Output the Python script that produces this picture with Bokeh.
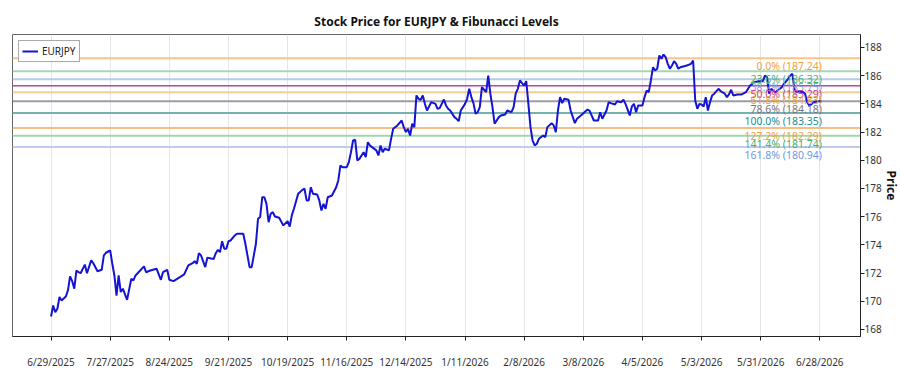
import pandas as pd
from bokeh.plotting import figure
from bokeh.models import Range1d, FixedTicker, Legend, LegendItem, ColumnDataSource, Title
from bokeh.core.properties import value
from bokeh.embed import file_html
from bokeh.resources import INLINE

FONT = "Noto Sans"

dates = [
    "2025-06-29", "2025-06-30", "2025-07-01", "2025-07-02", "2025-07-03", "2025-07-04", "2025-07-06", "2025-07-07",
    "2025-07-08", "2025-07-09", "2025-07-10", "2025-07-11", "2025-07-12", "2025-07-13", "2025-07-15", "2025-07-16",
    "2025-07-18", "2025-07-19", "2025-07-21", "2025-07-23", "2025-07-24", "2025-07-25", "2025-07-27", "2025-07-28",
    "2025-07-29", "2025-07-30", "2025-07-31", "2025-08-01", "2025-08-02", "2025-08-04", "2025-08-06", "2025-08-07",
    "2025-08-08", "2025-08-09", "2025-08-12", "2025-08-13", "2025-08-15", "2025-08-18", "2025-08-20", "2025-08-21",
    "2025-08-23", "2025-08-24", "2025-08-26", "2025-08-29", "2025-08-31", "2025-09-02", "2025-09-04", "2025-09-05",
    "2025-09-06", "2025-09-07", "2025-09-08", "2025-09-10", "2025-09-11", "2025-09-14", "2025-09-15", "2025-09-16",
    "2025-09-17", "2025-09-18", "2025-09-19", "2025-09-20", "2025-09-21", "2025-09-22", "2025-09-24", "2025-09-25",
    "2025-09-28", "2025-09-29", "2025-10-01", "2025-10-02", "2025-10-04", "2025-10-05", "2025-10-06", "2025-10-07",
    "2025-10-08", "2025-10-09", "2025-10-10", "2025-10-11", "2025-10-12", "2025-10-13", "2025-10-15", "2025-10-17",
    "2025-10-19", "2025-10-20", "2025-10-21", "2025-10-22", "2025-10-24", "2025-10-26", "2025-10-27", "2025-10-28",
    "2025-10-29", "2025-10-30", "2025-10-31", "2025-11-02", "2025-11-03", "2025-11-04", "2025-11-05", "2025-11-06",
    "2025-11-07", "2025-11-09", "2025-11-11", "2025-11-12", "2025-11-13", "2025-11-14", "2025-11-16", "2025-11-17",
    "2025-11-18", "2025-11-19", "2025-11-20", "2025-11-21", "2025-11-22", "2025-11-24", "2025-11-25", "2025-11-26",
    "2025-11-27", "2025-11-28", "2025-11-30", "2025-12-01", "2025-12-02", "2025-12-03", "2025-12-04", "2025-12-06",
    "2025-12-07", "2025-12-08", "2025-12-10", "2025-12-12", "2025-12-13", "2025-12-14", "2025-12-15", "2025-12-16",
    "2025-12-17", "2025-12-18", "2025-12-19", "2025-12-20", "2025-12-21", "2025-12-22", "2025-12-23", "2025-12-24",
    "2025-12-26", "2025-12-28", "2025-12-29", "2025-12-30", "2026-01-01", "2026-01-02", "2026-01-03", "2026-01-04",
    "2026-01-06", "2026-01-07", "2026-01-08", "2026-01-09", "2026-01-11", "2026-01-12", "2026-01-13", "2026-01-14",
    "2026-01-15", "2026-01-16", "2026-01-17", "2026-01-18", "2026-01-19", "2026-01-21", "2026-01-22", "2026-01-23",
    "2026-01-24", "2026-01-25", "2026-01-27", "2026-01-28", "2026-01-30", "2026-01-31", "2026-02-02", "2026-02-03",
    "2026-02-04", "2026-02-05", "2026-02-06", "2026-02-07", "2026-02-08", "2026-02-09", "2026-02-10", "2026-02-11",
    "2026-02-12", "2026-02-13", "2026-02-14", "2026-02-15", "2026-02-17", "2026-02-18", "2026-02-19", "2026-02-21",
    "2026-02-22", "2026-02-23", "2026-02-24", "2026-02-25", "2026-02-26", "2026-02-27", "2026-03-01", "2026-03-02",
    "2026-03-04", "2026-03-05", "2026-03-07", "2026-03-10", "2026-03-11", "2026-03-13", "2026-03-15", "2026-03-16",
    "2026-03-17", "2026-03-19", "2026-03-20", "2026-03-21", "2026-03-23", "2026-03-24", "2026-03-26", "2026-03-27",
    "2026-03-28", "2026-03-30", "2026-03-31", "2026-04-01", "2026-04-02", "2026-04-03", "2026-04-05", "2026-04-06",
    "2026-04-07", "2026-04-08", "2026-04-09", "2026-04-10", "2026-04-11", "2026-04-12", "2026-04-13", "2026-04-14",
    "2026-04-15", "2026-04-16", "2026-04-17", "2026-04-18", "2026-04-19", "2026-04-20", "2026-04-21", "2026-04-22",
    "2026-04-23", "2026-04-26", "2026-04-28", "2026-04-29", "2026-04-30", "2026-05-01", "2026-05-02", "2026-05-03",
    "2026-05-04", "2026-05-05", "2026-05-06", "2026-05-07", "2026-05-08", "2026-05-09", "2026-05-11", "2026-05-12",
    "2026-05-14", "2026-05-15", "2026-05-16", "2026-05-17", "2026-05-18", "2026-05-20", "2026-05-22", "2026-05-24",
    "2026-05-25", "2026-05-26", "2026-05-28", "2026-05-30", "2026-06-01", "2026-06-02", "2026-06-03", "2026-06-04",
    "2026-06-05", "2026-06-07", "2026-06-08", "2026-06-10", "2026-06-11", "2026-06-13", "2026-06-14", "2026-06-15",
    "2026-06-16", "2026-06-17", "2026-06-18", "2026-06-20", "2026-06-21", "2026-06-22", "2026-06-23", "2026-06-24",
    "2026-06-25", "2026-06-27", "2026-06-29",
]

prices = [
    168.92, 169.70, 169.23, 169.47, 170.30, 170.06, 170.34, 170.77,
    171.76, 171.43, 170.89, 172.18, 172.06, 171.99, 172.60, 171.99,
    172.90, 172.70, 172.13, 172.23, 173.25, 173.44, 173.60, 172.66,
    171.83, 170.40, 171.83, 170.65, 170.89, 170.10, 171.60, 171.48,
    171.83, 171.99, 172.47, 172.06, 172.18, 172.30, 171.52, 172.06,
    172.23, 171.52, 171.43, 171.71, 171.90, 172.54, 172.70, 172.84,
    172.66, 173.41, 173.25, 172.42, 173.08, 173.00, 173.41, 173.65,
    173.48, 174.26, 173.72, 173.72, 174.26, 174.31, 174.67, 174.79,
    174.79, 174.08, 172.42, 172.42, 174.08, 175.85, 175.97, 177.38,
    177.38, 176.91, 175.61, 176.20, 176.32, 176.01, 175.92, 175.38,
    175.68, 175.30, 176.09, 176.56, 177.62, 177.90, 177.98, 177.15,
    177.15, 178.09, 177.62, 177.57, 177.15, 176.44, 176.91, 176.56,
    177.38, 177.50, 178.09, 178.57, 179.63, 179.51, 179.51, 179.87,
    180.57, 181.40, 181.45, 179.99, 180.10, 180.57, 180.22, 181.28,
    181.05, 180.93, 180.70, 180.34, 181.05, 180.57, 180.82, 180.70,
    181.52, 182.23, 182.47, 182.82, 182.35, 182.00, 182.23, 181.76,
    182.59, 182.35, 184.60, 184.36, 184.29, 184.60, 184.00, 183.53,
    184.12, 184.00, 183.65, 183.70, 184.31, 183.89, 183.65, 183.53,
    183.06, 182.94, 182.77, 183.53, 184.00, 184.36, 185.07, 184.48,
    184.05, 183.30, 183.41, 183.77, 185.18, 184.83, 186.01, 184.72,
    183.77, 182.59, 183.06, 183.18, 183.25, 183.53, 183.41, 183.77,
    184.72, 185.07, 185.66, 185.47, 185.30, 185.61, 184.00, 182.35,
    181.40, 181.05, 181.17, 181.52, 181.76, 181.64, 182.35, 182.63,
    182.47, 181.99, 183.53, 184.48, 184.05, 184.36, 184.29, 183.53,
    182.63, 182.94, 183.20, 183.60, 183.50, 182.82, 182.82, 183.41,
    182.94, 183.53, 184.12, 184.05, 183.96, 184.19, 184.12, 184.29,
    184.00, 183.18, 183.82, 184.00, 183.41, 183.89, 183.89, 184.48,
    184.95, 184.83, 185.66, 186.60, 186.37, 186.49, 187.43, 187.20,
    187.50, 187.31, 186.84, 186.49, 186.72, 187.03, 186.84, 186.49,
    186.60, 186.72, 186.84, 187.08, 184.24, 183.65, 184.00, 183.96,
    183.82, 184.48, 183.53, 184.12, 184.60, 184.72, 185.07, 184.90,
    184.72, 184.48, 184.67, 185.00, 184.60, 184.67, 184.67, 184.83,
    185.07, 185.30, 185.54, 185.61, 185.61, 186.01, 185.90, 184.72,
    185.07, 184.83, 184.95, 185.18, 185.42, 185.78, 186.01, 186.13,
    185.00, 184.83, 184.90, 184.83, 184.72, 184.12, 183.89, 183.96,
    184.12, 184.19, 184.19,
]

fib_ratios = ["0.0%", "23.6%", "38.2%", "50.0%", "61.8%", "78.6%", "100.0%", "127.2%", "141.4%", "161.8%"]
fib_levels = [187.24, 186.32, 185.75, 185.29, 184.83, 184.18, 183.35, 182.29, 181.74, 180.94]
fib_line_colors = ["#f8c48a", "#a6d7b4", "#b9cbeb", "#b8479a", "#f1cf95", "#9c9ca8", "#74b2b2",
                   "#f7bd84", "#9fd7ad", "#bccdef"]
fib_line_widths = [2, 2, 2, 1.5, 2, 2, 2, 2, 2, 2]
fib_text_colors = ["#f0a040", "#48b070", "#7fa2e6", "#c8409e", "#eaa540", "#74747e", "#1f8e8e",
                   "#f0a04a", "#48b070", "#6f98e2"]

tick_labels = ["6/29/2025", "7/27/2025", "8/24/2025", "9/21/2025", "10/19/2025", "11/16/2025",
               "12/14/2025", "1/11/2026", "2/8/2026", "3/8/2026", "4/5/2026", "5/3/2026",
               "5/31/2026", "6/28/2026"]

series_name = "EURJPY"
y_label = "Price"

x = pd.to_datetime(dates)
tick_dt = pd.to_datetime(tick_labels, format="%m/%d/%Y")
tick_ms = [int(t.value // 10**6) for t in tick_dt]

span = x.max() - x.min()
x_start = x.min() - span * 0.05
x_end = x.max() + span * 0.05

p = figure(width=900, height=375, x_axis_type="datetime", y_axis_location="right",
           output_backend="svg", toolbar_location=None,
           x_range=Range1d(x_start, x_end), y_range=Range1d(167.5, 188.92),
           min_border_left=12, min_border_right=0, min_border_top=34, min_border_bottom=39)

p.title.text = "Stock Price for EURJPY & Fibunacci Levels"
p.title.align = "center"
p.title.text_font = FONT
p.title.text_font_size = "12px"
p.title.text_font_style = "bold"
p.title.text_color = "#111111"

p.outline_line_color = "#666666"
p.outline_line_width = 1

# Fibonacci level lines
for lvl, col, lw in zip(fib_levels, fib_line_colors, fib_line_widths):
    p.line([x_start, x_end], [lvl, lvl], line_color=col, line_width=lw)

# main series
src = ColumnDataSource(dict(x=x, y=prices))
r = p.line("x", "y", source=src, line_color="#1414d2", line_width=2)

# labels
lab_src = ColumnDataSource(dict(
    x=[x.max()] * len(fib_levels),
    y=fib_levels,
    t=[f"{r_} ({v:.2f})" for r_, v in zip(fib_ratios, fib_levels)],
    c=fib_text_colors,
))
p.text("x", "y", text="t", source=lab_src, text_color="c", text_align="right",
       text_baseline="top", y_offset=1, text_font=value(FONT), text_font_size="10.5px")

legend = Legend(items=[LegendItem(label=series_name, renderers=[r])], location="top_left")
legend.label_text_font = FONT
legend.label_text_font_size = "10px"
legend.label_text_color = "#222222"
legend.border_line_color = "#555555"
legend.border_line_width = 1
legend.margin = 6
legend.padding = 3
legend.glyph_width = 16
legend.glyph_height = 12
legend.label_height = 12
legend.label_standoff = 4
legend.spacing = 0
p.add_layout(legend)

# axes
p.xaxis.ticker = FixedTicker(ticks=tick_ms)
p.xaxis.major_label_overrides = {ms: lab for ms, lab in zip(tick_ms, tick_labels)}
p.xaxis.major_label_standoff = 14
p.xaxis.minor_tick_line_color = None
p.xaxis.major_tick_in = 0
p.xaxis.major_tick_out = 4
p.xaxis.axis_line_color = "#222222"
p.xaxis.major_tick_line_color = "#222222"
p.xaxis.major_label_text_font = FONT
p.xaxis.major_label_text_font_size = "10px"
p.xaxis.major_label_text_color = "#333333"

p.yaxis.ticker = FixedTicker(ticks=list(range(168, 189, 2)))
p.yaxis.major_label_standoff = 0
p.yaxis.minor_tick_line_color = None
p.yaxis.major_tick_in = 0
p.yaxis.major_tick_out = 4
p.yaxis.axis_line_color = "#222222"
p.yaxis.major_tick_line_color = "#222222"
p.yaxis.major_label_text_font = FONT
p.yaxis.major_label_text_font_size = "10px"
p.yaxis.major_label_text_color = "#333333"

ylab = Title(text=y_label, align="center", text_font=FONT, text_font_size="12px",
             text_font_style="bold", text_color="#111111", standoff=-3, offset=0)
p.add_layout(ylab, "right")

p.xgrid.grid_line_color = "#e6e6e6"
p.ygrid.grid_line_color = None

open("out.html", "w").write(file_html(p, INLINE))
